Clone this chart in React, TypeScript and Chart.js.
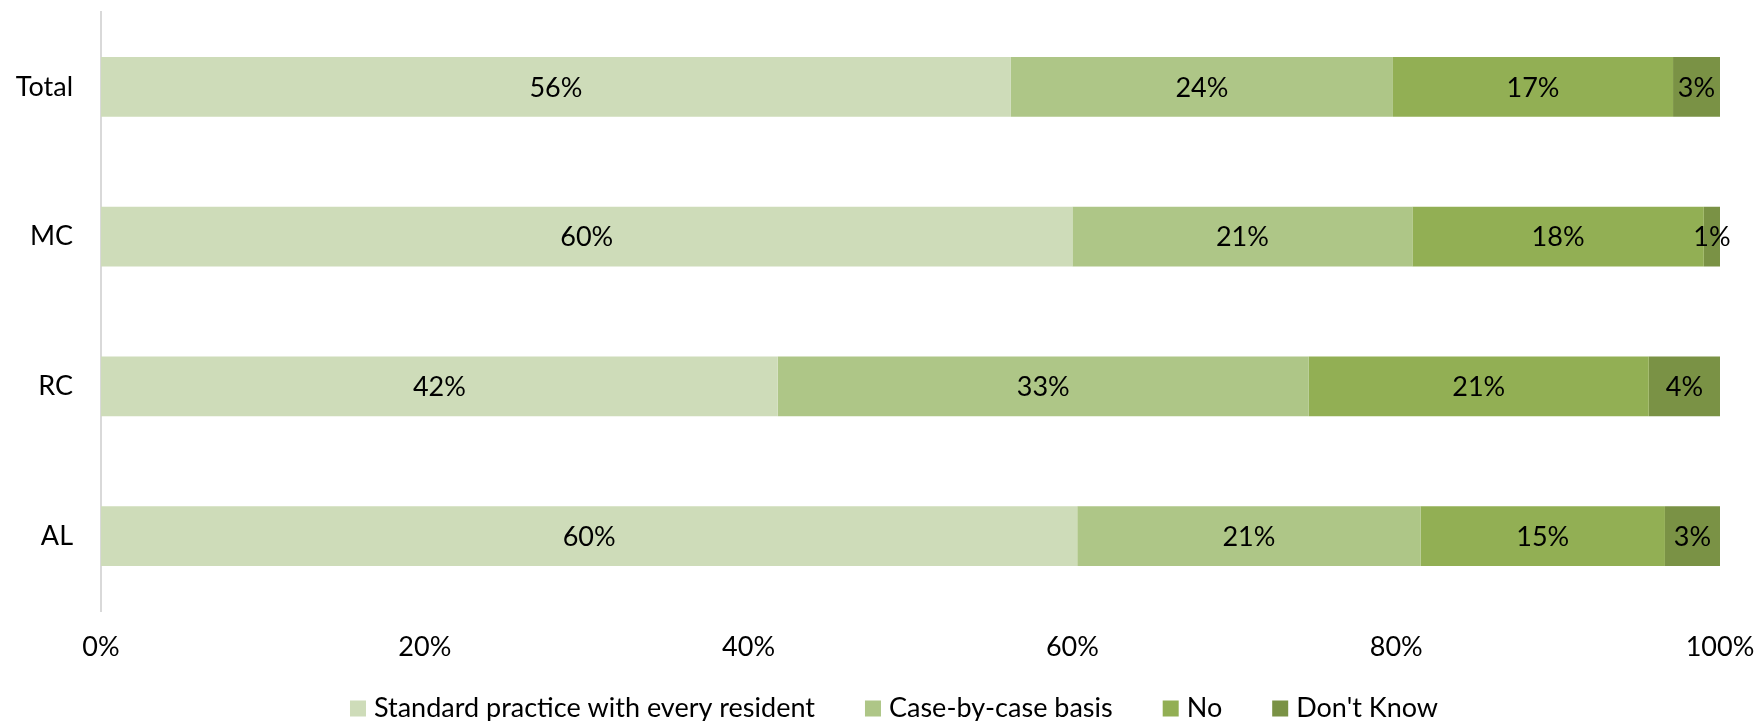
import React, { useEffect, useRef } from "react";
import { Chart, registerables } from "chart.js";

Chart.register(...registerables);

const categories = ["Total", "MC", "RC", "AL"];
const seriesNames = [
  "Standard practice with every resident",
  "Case-by-case basis",
  "No",
  "Don't Know",
];
const standardPractice = [56.2, 60.0, 41.8, 60.3];
const caseByCase = [23.6, 21.0, 32.8, 21.2];
const noValues = [17.3, 18.0, 21.0, 15.1];
const dontKnow = [2.9, 1.0, 4.4, 3.4];
const xTickValues = [0, 20, 40, 60, 80, 100];
const seriesColors = ["#CEDCB9", "#AEC687", "#92AF54", "#7A9245"];

const FONT_FAMILY = "Lato, 'Open Sans', sans-serif";
const FONT_SIZE = 27;

const zeroPadding = (scale: any) => {
  scale.paddingTop = 0;
  scale.paddingBottom = 0;
  scale.paddingLeft = 0;
  scale.paddingRight = 0;
};

const dataLabelPlugin = {
  id: "segmentLabels",
  afterDatasetsDraw(chart: any) {
    const ctx = chart.ctx;
    ctx.save();
    ctx.font = `${FONT_SIZE}px ${FONT_FAMILY}`;
    ctx.fillStyle = "#000000";
    ctx.textAlign = "center";
    ctx.textBaseline = "middle";
    chart.data.datasets.forEach((ds: any, di: number) => {
      const meta = chart.getDatasetMeta(di);
      meta.data.forEach((el: any, i: number) => {
        const { x, base, y } = el.getProps(["x", "base", "y"], true);
        const v = ds.data[i];
        ctx.fillText(Math.round(v) + "%", (x + base) / 2, y + 1);
      });
    });
    ctx.restore();
  },
};

const legendPlugin = {
  id: "customLegend",
  afterDraw(chart: any) {
    const ctx = chart.ctx;
    ctx.save();
    ctx.font = `${FONT_SIZE}px ${FONT_FAMILY}`;
    const box = 16;
    const boxGap = 8;
    const itemGap = 50;
    const items = chart.data.datasets.map((ds: any) => ({
      label: ds.label,
      color: ds.backgroundColor,
      w: ctx.measureText(ds.label).width,
    }));
    const total =
      items.reduce((s: number, it: any) => s + box + boxGap + it.w, 0) +
      itemGap * (items.length - 1);
    const centerX = 894;
    const cy = 708.5;
    let x = centerX - total / 2;
    ctx.textBaseline = "middle";
    ctx.textAlign = "left";
    items.forEach((it: any) => {
      ctx.fillStyle = it.color;
      ctx.fillRect(x, cy - box / 2, box, box);
      ctx.fillStyle = "#000000";
      ctx.fillText(it.label, x + box + boxGap, cy);
      x += box + boxGap + it.w + itemGap;
    });
    ctx.restore();
  },
};

export default function App() {
  const canvasRef = useRef<HTMLCanvasElement | null>(null);

  useEffect(() => {
    const canvas = canvasRef.current;
    if (!canvas) return;
    const seriesValues = [standardPractice, caseByCase, noValues, dontKnow];
    const chart = new Chart(canvas, {
      type: "bar",
      data: {
        labels: categories,
        datasets: seriesNames.map((name, i) => ({
          label: name,
          data: seriesValues[i],
          backgroundColor: seriesColors[i],
          borderWidth: 0,
          barPercentage: 0.4,
          categoryPercentage: 1.0,
        })),
      },
      options: {
        indexAxis: "y",
        responsive: false,
        animation: false,
        layout: { padding: { top: 12, right: 36, bottom: 0, left: 0 } },
        plugins: {
          legend: { display: false },
          tooltip: { enabled: false },
        },
        scales: {
          x: {
            stacked: true,
            min: 0,
            max: 100,
            afterFit: (scale: any) => {
              scale.height = 110;
              zeroPadding(scale);
            },
            afterBuildTicks: (scale: any) => {
              scale.ticks = xTickValues.map((v) => ({ value: v }));
            },
            grid: { display: false, drawTicks: false },
            border: { display: false },
            ticks: {
              padding: 20,
              color: "#000000",
              font: { family: FONT_FAMILY, size: FONT_SIZE },
              maxRotation: 0,
              callback: (v: any) => v + "%",
            },
          },
          y: {
            stacked: true,
            afterFit: (scale: any) => {
              scale.width = 101;
              zeroPadding(scale);
            },
            grid: { display: false, drawTicks: false },
            border: { display: true, color: "#D9D9D9", width: 2 },
            ticks: {
              padding: 28,
              color: "#000000",
              font: { family: FONT_FAMILY, size: FONT_SIZE },
            },
          },
        },
      },
      plugins: [dataLabelPlugin, legendPlugin],
    });
    return () => chart.destroy();
  }, []);

  return (
    <div style={{ position: "absolute", left: 0, top: 0, width: 1756, height: 721, background: "#ffffff" }}>
      <canvas ref={canvasRef} width={1756} height={721} style={{ display: "block" }} />
    </div>
  );
}
